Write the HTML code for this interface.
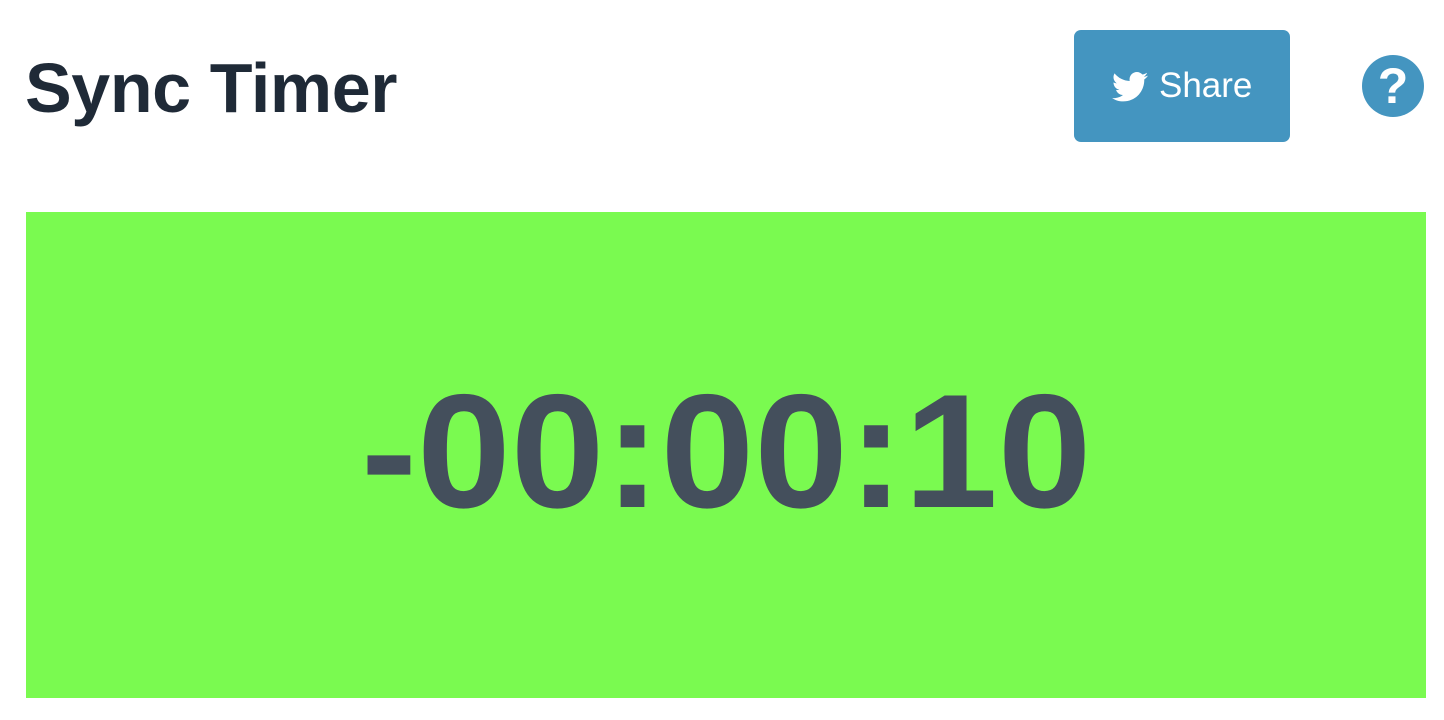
<!DOCTYPE html>
<html><head><meta charset="utf-8"><style>
body{margin:0;width:1444px;height:720px;background:#fff;position:relative;overflow:hidden;font-family:"Liberation Sans",sans-serif}
.title{position:absolute;left:25px;top:53px;font-size:70px;font-weight:bold;color:#1f2a37;line-height:1;letter-spacing:-0.4px;white-space:nowrap}
.share{position:absolute;left:1074px;top:30px;width:216px;height:112px;background:#4495c0;border-radius:7px;color:#fff}
.timer-box{position:absolute;left:26px;top:212px;width:1400px;height:486px;background:#7afa50}
.timer{position:absolute;left:0;width:1400px;top:159px;text-align:center;font-size:162px;font-weight:bold;color:#444f5c;line-height:1;white-space:nowrap}
.timer span{display:inline-block;transform:scaleX(1.04);transform-origin:center}
</style></head><body>
<div class="title">Sync Timer</div>
<div class="share">
<svg style="position:absolute;left:38px;top:42px" width="36" height="30" viewBox="0 0 24 20"><path fill="#fff" d="M24 2.4c-.9.4-1.8.7-2.8.8 1-.6 1.8-1.6 2.2-2.7-1 .6-2 1-3.1 1.2C19.3.7 18 0 16.6 0c-2.7 0-4.900 2.2-4.9 4.9 0 .4 0 .8.1 1.1C7.7 5.8 4.1 3.9 1.7.9c-.4.7-.7 1.6-.7 2.5 0 1.700.9 3.2 2.2 4.1-.8 0-1.6-.2-2.2-.6v.1c0 2.4 1.7 4.4 3.9 4.8-.4.1-.8.2-1.3.2-.3 0-.6 0-.9-.1.6 2 2.4 3.4 4.6 3.4-1.7 1.3-3.8 2.100-6.1 2.100-.4 0-.8 0-1.2-.1C2.2 18.8 4.8 19.6 7.5 19.6c9.1 0 14-7.5 14-14v-.6c1-.7 1.8-1.6 2.5-2.6z"/></svg>
<div style="position:absolute;left:85px;top:38px;font-size:35px;line-height:1">Share</div>
</div>
<svg style="position:absolute;left:1362px;top:55px" width="62" height="62" viewBox="0 0 62 62"><circle cx="31" cy="31" r="31" fill="#4495c0"/><text x="31" y="48" text-anchor="middle" font-family="Liberation Sans,sans-serif" font-weight="bold" font-size="50" fill="#fff">?</text></svg>
<div class="timer-box">
<div class="timer"><span>-00:00:10</span></div>
</div>
</body></html>
